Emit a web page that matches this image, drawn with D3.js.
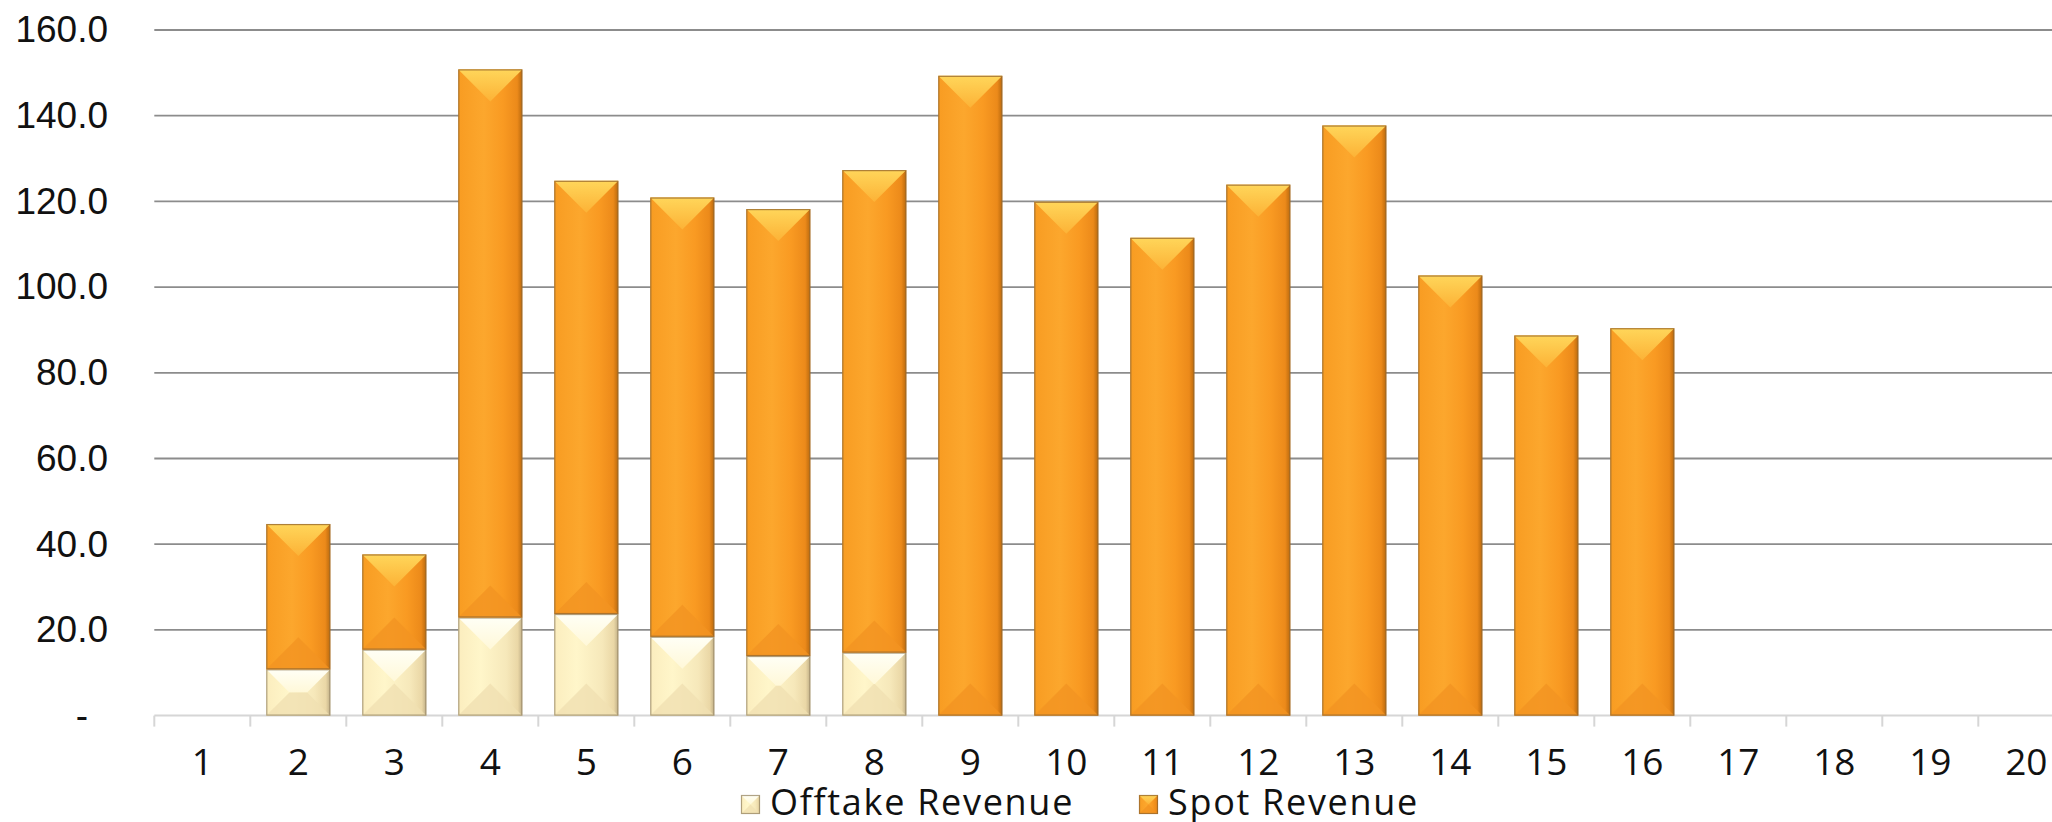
<!DOCTYPE html>
<html>
<head>
<meta charset="utf-8">
<script src="https://cdn.jsdelivr.net/npm/d3@7"></script>
<style>
  html, body { margin: 0; padding: 0; background: #fff; }
  svg { display: block; font-family: "Open Sans", "Noto Sans", sans-serif; }
</style>
</head>
<body>
<div id="chart"></div>
<script>
// Chart data
const years = ["1", "2", "3", "4", "5", "6", "7", "8", "9", "10",
               "11", "12", "13", "14", "15", "16", "17", "18", "19", "20"];
const offtakeRevenue = [0, 10.8, 15.4, 22.9, 23.7, 18.4, 13.9, 14.7, 0, 0,
                        0, 0, 0, 0, 0, 0, 0, 0, 0, 0];
const spotRevenue = [0, 33.9, 22.2, 127.9, 101.1, 102.5, 104.3, 112.6, 149.3, 119.9,
                     111.5, 123.9, 137.7, 102.7, 88.7, 90.4, 0, 0, 0, 0];
const yTicks = [0, 20, 40, 60, 80, 100, 120, 140, 160];
const seriesNames = ["Offtake Revenue", "Spot Revenue"];

const W = 2052, H = 822;
const margin = {top: 30, left: 154.3, bottom: 106.4};
const step = 96;

const svg = d3.select("#chart").append("svg")
    .attr("width", W)
    .attr("height", H)
    .style("overflow", "hidden");

// Gradients for the bevelled bars
const defs = svg.append("defs");
const addGrad = (id, vertical, stops) => {
    const g = defs.append("linearGradient").attr("id", id)
        .attr("x1", 0).attr("y1", 0)
        .attr("x2", vertical ? 0 : 1).attr("y2", vertical ? 1 : 0);
    stops.forEach(([o, c]) => g.append("stop").attr("offset", o).attr("stop-color", c));
};
addGrad("spotBody", false, [[0, "#F89C22"], [0.4, "#FCA72D"], [0.7, "#F99A22"], [0.92, "#EC8A1A"], [1, "#B9690E"]]);
addGrad("spotTop", true, [[0, "#FFD65A"], [1, "#FCB236"]]);
addGrad("offBody", false, [[0, "#FBEDBE"], [0.35, "#FFF6CA"], [0.75, "#F6E8BA"], [0.93, "#EAD7A6"], [1, "#BFAE86"]]);
addGrad("offTop", true, [[0, "#FFFFF6"], [1, "#FFF8D8"]]);

const style = {
    "Offtake Revenue": {body: "url(#offBody)", top: "url(#offTop)", bottom: "#F0E0B2", stroke: "#9C8C6A"},
    "Spot Revenue": {body: "url(#spotBody)", top: "url(#spotTop)", bottom: "#F29322", stroke: "#9A6A2E"}
};

// Scales
const x = d3.scaleBand()
    .domain(years)
    .range([margin.left, margin.left + step * years.length])
    .paddingInner(1 / 3)
    .paddingOuter(1 / 6);
const y = d3.scaleLinear()
    .domain([0, 160])
    .range([H - margin.bottom, margin.top]);

// Gridlines
svg.append("g")
    .selectAll("line")
    .data(yTicks.filter(d => d > 0))
    .enter().append("line")
    .attr("x1", margin.left)
    .attr("x2", W)
    .attr("y1", d => y(d))
    .attr("y2", d => y(d))
    .attr("stroke", "#8C8C8C")
    .attr("stroke-width", 1.8);

// Y axis labels
const yAxis = svg.append("g")
    .attr("transform", "translate(108,0)")
    .call(d3.axisLeft(y).tickValues(yTicks).tickSize(0).tickPadding(0)
        .tickFormat(d => d === 0 ? "-" : d3.format(".1f")(d)));
yAxis.select(".domain").remove();
yAxis.selectAll("text")
    .attr("font-size", "37px")
    .attr("fill", "#111")
    .attr("dy", "0.32em")
    .attr("x", d => d === 0 ? -20 : 0);

// X axis line and tick marks at band edges
const base = y(0);
svg.append("line")
    .attr("x1", margin.left).attr("x2", W)
    .attr("y1", base).attr("y2", base)
    .attr("stroke", "#D6D6D6").attr("stroke-width", 2);
svg.append("g")
    .selectAll("line")
    .data(years)
    .enter().append("line")
    .attr("x1", d => x(d) - x.step() * x.paddingInner() / 2)
    .attr("x2", d => x(d) - x.step() * x.paddingInner() / 2)
    .attr("y1", base)
    .attr("y2", base + 11)
    .attr("stroke", "#D6D6D6").attr("stroke-width", 2);
svg.append("g")
    .selectAll("text")
    .data(years)
    .enter().append("text")
    .attr("x", d => x(d) + x.bandwidth() / 2)
    .attr("y", 775)
    .attr("text-anchor", "middle")
    .attr("font-size", "37px")
    .attr("fill", "#111")
    .text(d => d);

// Bevelled block: body, top face, bottom face, outline
const drawBlock = (g, bx, by, w, h, s) => {
    const d = Math.min(w / 2, h / 2);
    g.append("rect").attr("x", bx).attr("y", by).attr("width", w).attr("height", h)
        .attr("fill", s.body);
    g.append("polygon")
        .attr("points", [[bx, by], [bx + w, by], [bx + w - d, by + d], [bx + d, by + d]].join(" "))
        .attr("fill", s.top);
    g.append("polygon")
        .attr("points", [[bx, by + h], [bx + w, by + h], [bx + w - d, by + h - d], [bx + d, by + h - d]].join(" "))
        .attr("fill", s.bottom).attr("opacity", 0.8);
    g.append("rect").attr("x", bx + 0.5).attr("y", by + 0.5)
        .attr("width", w - 1).attr("height", h - 1)
        .attr("fill", "none").attr("stroke", s.stroke).attr("stroke-width", 1.2).attr("opacity", 0.8);
};

// Stacked bars
const table = years.map((yr, i) => ({year: yr, "Offtake Revenue": offtakeRevenue[i], "Spot Revenue": spotRevenue[i]}));
const stacked = d3.stack().keys(seriesNames)(table);
const bars = svg.append("g");
stacked.forEach(series => {
    series.forEach(seg => {
        const h = y(seg[0]) - y(seg[1]);
        if (h <= 0) return;
        drawBlock(bars, x(seg.data.year), y(seg[1]), x.bandwidth(), h, style[series.key]);
    });
});

// Legend
const legendX = [741, 1139];
const legend = svg.append("g");
seriesNames.forEach((name, i) => {
    const g = legend.append("g").attr("transform", `translate(${legendX[i]},0)`);
    drawBlock(g, 0, 795, 19, 19, style[name]);
    g.append("text")
        .attr("x", 29)
        .attr("y", 815)
        .attr("font-size", "36px")
        .attr("letter-spacing", "1.7px")
        .attr("fill", "#111")
        .text(name);
});
</script>
</body>
</html>
